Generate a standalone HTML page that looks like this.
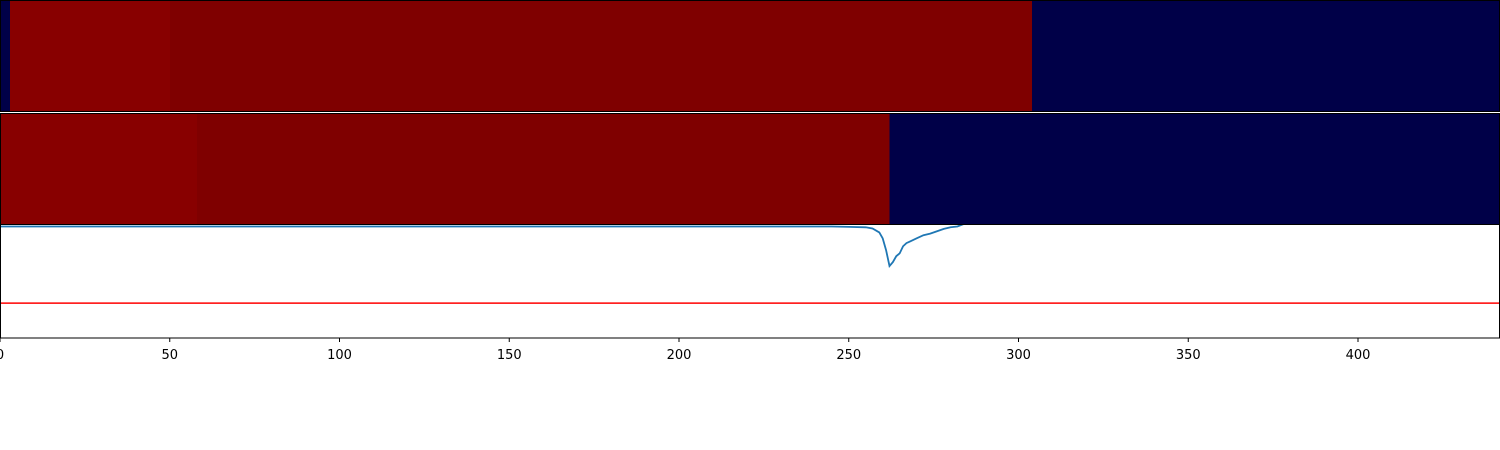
<!DOCTYPE html>
<html><head><meta charset="utf-8"><style>body{margin:0;background:#fff}svg{display:block}</style></head>
<body>
<svg id="chart" width="1500" height="450" xmlns="http://www.w3.org/2000/svg" font-family="DejaVu Sans, Liberation Sans, sans-serif"></svg>
<script>
const xTicks = [0,50,100,150,200,250,300,350,400];
const row1Segments = [[0,3,'#000048'],[3,50,'#880000'],[50,304,'#7f0000'],[304,442,'#000048']];
const row2Segments = [[0,58,'#880000'],[58,262,'#7f0000'],[262,442,'#000048']];
const lineX = [0,50,100,150,200,245,250,255,257,259,260,261,262,263,264,265,266,267,268,270,272,274,276,278,280,282,285,300,441];
const lineY = [0,0,0,0,0,0,-0.01,-0.02,-0.05,-0.15,-0.3,-0.6,-1.0,-0.9,-0.75,-0.68,-0.5,-0.42,-0.38,-0.3,-0.22,-0.18,-0.12,-0.06,-0.02,0,0.1,0.2,0.2];
const threshold = -1.94;
const svg=document.getElementById('chart');const NS='http://www.w3.org/2000/svg';
const xs=v=>v*3.395;const ys=v=>226.5-v*39.5;
function mk(t,a,p){const e=document.createElementNS(NS,t);for(const k in a)e.setAttribute(k,a[k]);(p||svg).appendChild(e);return e;}
const defs=mk('defs',{});const cp=mk('clipPath',{id:'c3'},defs);mk('rect',{x:0,y:225,width:1500,height:113},cp);
function row(segs,y0,h,name){segs.forEach((s,i)=>{const r=mk('rect',{x:xs(s[0]),y:y0,width:xs(s[1])-xs(s[0])+0.5,height:h,fill:s[2],'shape-rendering':'crispEdges'});

});
const f=mk('rect',{x:0.5,y:y0+0.5,width:1499,height:h-1,fill:'none',stroke:'#000'});

}
row(row1Segments,0,112,'heatmap-row-1');
row(row2Segments,113,112,'heatmap-row-2');
const g=mk('g',{'clip-path':'url(#c3)'});
const th=mk('line',{x1:0,x2:1500,y1:ys(threshold),y2:ys(threshold),stroke:'#ff0000','stroke-width':1.5},g);


const pl=mk('polyline',{points:lineX.map((x,i)=>xs(x)+','+ys(lineY[i])).join(' '),fill:'none',stroke:'#1f77b4','stroke-width':1.8},g);


const ax=mk('path',{d:'M0.5 225 V338 H1499.5 V225',fill:'none',stroke:'#000'});


xTicks.forEach(t=>{const x=xs(t);mk('line',{x1:x,x2:x,y1:338,y2:342,stroke:'#000'});
const tx=mk('text',{x:x,y:359,'font-size':13,'text-anchor':'middle',fill:'#000'});tx.textContent=t;

});
</script>
</body></html>
